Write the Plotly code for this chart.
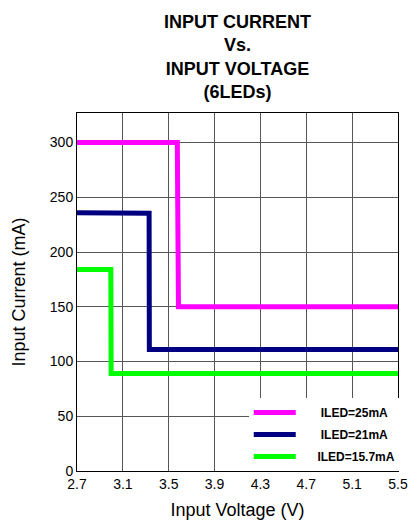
import plotly.graph_objects as go

# ---- data ----
series_names = ["ILED=25mA", "ILED=21mA", "ILED=15.7mA"]
series_colors = ["#FF00FF", "#000080", "#00FF00"]

v_25 = [2.7, 3.0, 3.3, 3.575, 3.585, 5.5]
i_25 = [300, 300, 300.5, 300, 150, 150]

v_21 = [2.7, 3.0, 3.329, 3.331, 5.5]
i_21 = [236, 236, 235.5, 111, 111]

v_157 = [2.7, 2.9, 2.995, 2.998, 5.5]
i_157 = [184, 184.5, 184, 89, 89]

x_ticks = [2.7, 3.1, 3.5, 3.9, 4.3, 4.7, 5.1, 5.5]
x_tick_text = ["2.7", "3.1", "3.5", "3.9", "4.3", "4.7", "5.1", "5.5"]
y_ticks = [0, 50, 100, 150, 200, 250, 300]

title_lines = ["INPUT CURRENT", "Vs.", "INPUT VOLTAGE", "(6LEDs)"]
x_title = "Input Voltage (V)"
y_title = "Input Current (mA)"

FONT = "Arial, Liberation Sans, Helvetica, sans-serif"
legend_pad = [6, 6, 5]  # centred-looking legend labels (leading spaces)

fig = go.Figure()
for k, (xs, ys) in enumerate([(v_25, i_25), (v_21, i_21), (v_157, i_157)]):
    fig.add_trace(go.Scatter(
        x=xs, y=ys, mode="lines",
        name="&nbsp;" * legend_pad[k] + "<b>" + series_names[k] + "</b>",
        legendgroup="g%d" % k,
        line=dict(color=series_colors[k], width=5),
    ))

fig.update_layout(
    width=420, height=528,
    margin=dict(l=77, r=13, t=113, b=55),
    paper_bgcolor="white", plot_bgcolor="white",
    font=dict(family=FONT, color="black"),
    title=dict(
        text="<br>".join(title_lines),
        x=0.5, xref="paper", xanchor="center",
        y=1 - 28 / 528, yref="container", yanchor="top",
        font=dict(size=18, family=FONT, weight="bold", color="black"),
    ),
    showlegend=True,
    legend=dict(
        x=0.535, xanchor="left", y=0.0, yanchor="bottom",
        bgcolor="white", borderwidth=0,
        font=dict(size=12, family=FONT, color="black"),
        tracegroupgap=3, itemwidth=42,
    ),
)

fig.update_xaxes(
    range=[2.7, 5.5], tickmode="array", tickvals=x_ticks, ticktext=x_tick_text,
    showgrid=True, gridcolor="#555", gridwidth=1,
    showline=True, linecolor="black", linewidth=1, mirror=True,
    ticks="", zeroline=False,
    tickfont=dict(size=14, family=FONT, color="black"),
    title=dict(text=x_title, font=dict(size=18, family=FONT, color="black"), standoff=12),
)
fig.update_yaxes(
    range=[0, 327], tickmode="array", tickvals=y_ticks,
    showgrid=True, gridcolor="#555", gridwidth=1,
    showline=True, linecolor="black", linewidth=1, mirror=True,
    ticks="", zeroline=False,
    tickfont=dict(size=14, family=FONT, color="black"),
    title=dict(text=y_title, font=dict(size=18, family=FONT, color="black"), standoff=19),
)

fig.write_html("out.html")
